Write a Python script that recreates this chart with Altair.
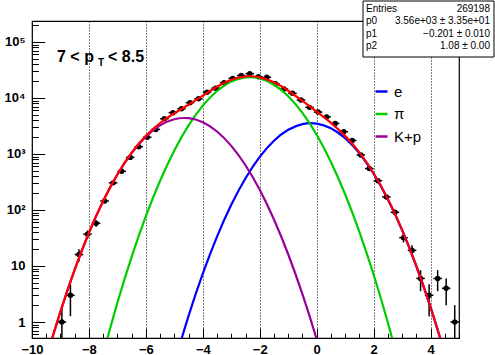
import altair as alt
import pandas as pd

# ---------------- data ----------------
bin_width = 0.3
bin_centers = [-8.95, -8.65, -8.35, -8.05, -7.75, -7.45, -7.15, -6.85, -6.55, -6.25,
               -5.95, -5.65, -5.35, -5.05, -4.75, -4.45, -4.15, -3.85, -3.55, -3.25,
               -2.95, -2.65, -2.35, -2.05, -1.75, -1.45, -1.15, -0.85, -0.55, -0.25,
               0.05, 0.35, 0.65, 0.95, 1.25, 1.55, 1.85, 2.15, 2.45, 2.75,
               3.05, 3.35, 3.65, 3.95, 4.25, 4.55, 4.85]
counts = [1, 3, 16, 37, 58, 145, 305, 490, 870, 1350,
          1990, 2750, 4250, 5470, 6400, 8250, 9700, 12700, 15000, 18800,
          22400, 25200, 27200, 24000, 23400, 18000, 14500, 12100, 9200, 6800,
          5600, 4600, 3520, 2500, 1740, 960, 550, 333, 171, 91,
          32, 19, 6, 3, 6, 4, 1]

# fitted curves
kp_x = [-10.0, -9.5, -9.0, -8.5, -8.0, -7.5, -7.0, -6.5, -6.0, -5.5, -5.0,
        -4.5, -4.0, -3.5, -3.0, -2.5, -2.0, -1.5, -1.0, -0.5, 0.0, 0.5]
kp_y = [0.026, 0.222, 1.535, 8.61, 39.2, 144.2, 430.5, 1041, 2042, 3243, 4175,
        4355, 3680, 2520, 1398, 629, 229, 67.6, 16.2, 3.14, 0.493, 0.0627]

pi_x = [-7.5, -7.0, -6.5, -6.0, -5.5, -5.0, -4.5, -4.0, -3.5, -3.0, -2.5,
        -2.0, -1.5, -1.0, -0.5, 0.0, 0.5, 1.0, 1.5, 2.0, 2.5, 3.0]
pi_y = [0.271, 2.21, 14.6, 77.6, 333, 1156, 3236, 7311, 13330, 19600, 23270,
        22290, 17240, 10760, 5415, 2201, 722, 191, 40.8, 7.04, 0.98, 0.110]

e_x = [-5.0, -4.5, -4.0, -3.5, -3.0, -2.5, -2.0, -1.5, -1.0, -0.5,
       0.0, 0.5, 1.0, 1.5, 2.0, 2.5, 3.0, 3.5, 4.0, 4.5]
e_y = [0.183, 1.29, 7.31, 33.5, 123.7, 369, 888, 1725, 2705, 3424,
       3495, 2881, 1916, 1029, 446, 155.8, 44.0, 10.0, 1.84, 0.273]

tot_x = [-10.0, -9.5, -9.0, -8.5, -8.0, -7.5, -7.0, -6.5, -6.0, -5.5,
         -5.0, -4.5, -4.0, -3.5, -3.0, -2.5, -2.0, -1.5, -1.0, -0.5,
         0.0, 0.5, 1.0, 1.5, 2.0, 2.5, 3.0, 3.5, 4.0, 4.5, 5.0]
tot_y = [0.026, 0.222, 1.535, 8.61, 39.2, 144.5, 432.7, 1056, 2120, 3576,
         5331, 7592, 11000, 15880, 21120, 24270, 23410, 19030, 13480, 8842,
         5697, 3603, 2107, 1070, 453, 156.8, 44.1, 10.0, 1.84, 0.273, 0.0327]

species = ["e", "π", "K+p"]
species_colors = ["#0000ff", "#00cc00", "#990099"]

x_major = [-10, -8, -6, -4, -2, 0, 2, 4]
x_minor = [v / 2 for v in range(-20, 11)]
y_major = [1, 10, 100, 1000, 10000, 100000]
y_minor = [0.6, 0.7, 0.8, 0.9] + [m * 10 ** k for k in range(0, 6) for m in range(2, 10) if m * 10 ** k < 2.37e5]

stats_labels = ["Entries", "p0", "p1", "p2"]
stats_values = ["269198", "3.56e+03 ± 3.35e+01", "−0.201 ± 0.010", "1.08 ± 0.00"]

# ---------------- tables ----------------
pts = pd.DataFrame({"x": bin_centers, "n": counts})
pts["xl"] = pts["x"] - bin_width / 2
pts["xr"] = pts["x"] + bin_width / 2

comp = pd.concat([
    pd.DataFrame({"x": e_x, "y": e_y, "comp": "e"}),
    pd.DataFrame({"x": pi_x, "y": pi_y, "comp": "π"}),
    pd.DataFrame({"x": kp_x, "y": kp_y, "comp": "K+p"}),
])
tot = pd.DataFrame({"x": tot_x, "y": tot_y})

FONT = "Liberation Sans"
XS = alt.Scale(domain=[-10, 5], nice=False, zero=False)
YS = alt.Scale(type="log", domain=[0.518, 2.37e5], nice=False)

ax_x_lab = alt.Axis(orient="bottom", values=x_major, tickSize=0, domain=False, title=None,
                    labelFont=FONT, labelFontSize=13, labelFontWeight="bold", labelColor="black",
                    labelPadding=5, labelFlush=False,
                    grid=True, gridDash=[1, 2], gridColor="black", gridOpacity=1, gridWidth=1)
ax_x_maj = alt.Axis(orient="bottom", values=x_major, offset=-9.5, tickSize=9.5, labels=False,
                    domain=False, grid=False, title=None, tickColor="black", tickWidth=1)
ax_x_min = alt.Axis(orient="bottom", values=x_minor, offset=-4.75, tickSize=4.75, labels=False,
                    domain=False, grid=False, title=None, tickColor="black", tickWidth=1)

sup = ("datum.value < 5 ? '1' : datum.value < 50 ? '10' : datum.value < 500 ? '10²' : "
       "datum.value < 5000 ? '10³' : datum.value < 50000 ? '10⁴' : '10⁵'")
ax_y_lab = alt.Axis(orient="left", values=y_major, tickSize=0, domain=False, title=None, grid=False,
                    labelFont=FONT, labelFontSize=13, labelFontWeight="bold", labelColor="black",
                    labelPadding=7, labelExpr=sup, labelFlush=False)
ax_y_maj = alt.Axis(orient="left", values=y_major, offset=-12.8, tickSize=12.8, labels=False,
                    domain=False, grid=False, title=None, tickColor="black", tickWidth=1)
ax_y_min = alt.Axis(orient="left", values=y_minor, offset=-6.4, tickSize=6.4, labels=False,
                    domain=False, grid=False, title=None, tickColor="black", tickWidth=1)

base = alt.Chart(pts)
vbar = base.transform_calculate(
    lo="max(datum.n - sqrt(datum.n), 0.01)", hi="datum.n + sqrt(datum.n)"
).mark_rule(color="black", strokeWidth=1.5, clip=True).encode(
    x=alt.X("x:Q", scale=XS, axis=ax_x_maj),
    y=alt.Y("lo:Q", scale=YS, axis=ax_y_maj),
    y2="hi:Q",
)
hbar = base.mark_rule(color="black", strokeWidth=1.5, clip=True).encode(
    x=alt.X("xl:Q", scale=XS, axis=ax_x_min),
    x2="xr:Q",
    y=alt.Y("n:Q", scale=YS, axis=ax_y_min),
)
dots = base.mark_circle(color="black", size=30, opacity=1, clip=True).encode(
    x=alt.X("x:Q", scale=XS, axis=ax_x_lab),
    y=alt.Y("n:Q", scale=YS, axis=ax_y_lab),
)

comp_lines = alt.Chart(comp).mark_line(strokeWidth=2.2, clip=True, interpolate="natural").encode(
    x=alt.X("x:Q", scale=XS, axis=None),
    y=alt.Y("y:Q", scale=YS, axis=None),
    color=alt.Color("comp:N", scale=alt.Scale(domain=species, range=species_colors),
                    legend=alt.Legend(title=None, orient="none", legendX=342, legendY=63,
                                      symbolType="stroke", symbolStrokeWidth=2.5, symbolSize=144,
                                      labelFont=FONT, labelFontSize=15, labelColor="black",
                                      labelOffset=5, rowPadding=6.5, padding=0)),
    detail="comp:N",
)
tot_line = alt.Chart(tot).mark_line(strokeWidth=2.2, clip=True, color="#ff0000",
                                     interpolate="natural").encode(
    x=alt.X("x:Q", scale=XS, axis=None),
    y=alt.Y("y:Q", scale=YS, axis=None),
)

one = pd.DataFrame({"a": [0]})


def label(txt, x, y, size, weight="normal", align="left"):
    return alt.Chart(one).mark_text(
        text=txt, font=FONT, fontSize=size, fontWeight=weight, align=align,
        baseline="alphabetic", color="black", clip=False
    ).encode(x=alt.value(x), y=alt.value(y))


# pT bin label
t1 = label("7 < p", 25, 40.5, 16, "bold")
t2 = label("T", 66, 45, 10, "bold")
t3 = label("< 8.5", 76, 40.5, 16, "bold")

# stats box
box = alt.Chart(one).mark_rect(
    fill="white", stroke="black", strokeWidth=1, clip=False
).encode(x=alt.value(331), x2=alt.value(462), y=alt.value(-20), y2=alt.value(36))
row_y = [-9.5, 3.0, 15.5, 28.0]
stats_layers = []
for lab, val, ry in zip(stats_labels, stats_values, row_y):
    stats_layers.append(label(lab, 334, ry, 10))
    stats_layers.append(label(val, 458, ry, 10, align="right"))

chart = alt.layer(
    dots, vbar, hbar, comp_lines, tot_line, t1, t2, t3, box, *stats_layers
).resolve_axis(x="independent", y="independent").properties(
    width=427, height=317,
    autosize=alt.AutoSizeParams(type="none"),
    padding={"left": 32, "top": 21, "right": 36, "bottom": 17},
    background="white",
).configure_view(stroke="black", strokeWidth=1.2)

chart.save("out.html", embed_options={"renderer": "svg", "actions": False})
